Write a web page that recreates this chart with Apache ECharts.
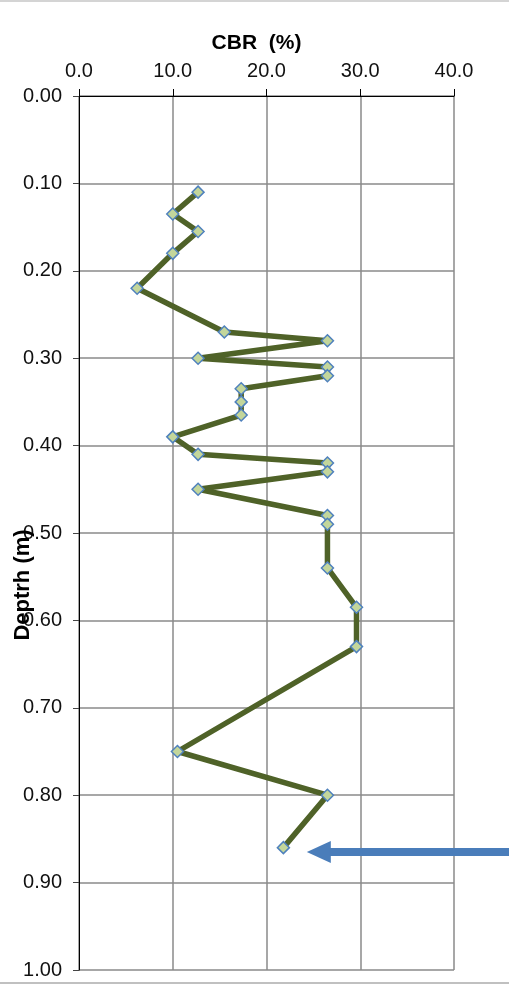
<!DOCTYPE html>
<html>
<head>
<meta charset="utf-8">
<script src="https://cdn.jsdelivr.net/npm/echarts@6/dist/echarts.min.js"></script>
<style>
  html, body { margin: 0; padding: 0; background: #fff; }
  #chart { width: 509px; height: 985px; }
</style>
</head>
<body>
<div id="chart"></div>
<script>
// CBR test profile: depth below surface (m) vs. CBR (%)
const depth = [0.11, 0.135, 0.155, 0.18, 0.22, 0.27, 0.28, 0.30, 0.31, 0.32, 0.335, 0.35, 0.365,
               0.39, 0.41, 0.42, 0.43, 0.45, 0.48, 0.49, 0.54, 0.585, 0.63, 0.75, 0.80, 0.86];
const cbr = [12.7, 10.0, 12.7, 10.0, 6.2, 15.5, 26.5, 12.7, 26.5, 26.5, 17.3, 17.3, 17.3,
             10.0, 12.7, 26.5, 26.5, 12.7, 26.5, 26.5, 26.5, 29.6, 29.6, 10.5, 26.5, 21.8];

// Axis ranges / tick spacing
const cbrTicks = [0, 10, 20, 30, 40];
const depthTicks = [0, 0.1, 0.2, 0.3, 0.4, 0.5, 0.6, 0.7, 0.8, 0.9, 1.0];

// Pointer arrow marking the last reading (tip position in data units)
const arrowDepth = 0.865;
const arrowTipCbr = 24.3;

const points = depth.map((d, i) => [cbr[i], d]);

const chart = echarts.init(document.getElementById('chart'), null, { renderer: 'canvas' });
const font = 'Liberation Sans, Arial, Helvetica, sans-serif';
const gridColor = '#8a8a8a';

chart.setOption({
  animation: false,
  backgroundColor: '#fff',
  grid: { left: 79, right: 55, top: 96, bottom: 15, containLabel: false },
  xAxis: {
    type: 'value',
    position: 'top',
    min: cbrTicks[0],
    max: cbrTicks[cbrTicks.length - 1],
    interval: cbrTicks[1] - cbrTicks[0],
    name: 'CBR  (%)',
    nameLocation: 'middle',
    nameGap: 42,
    nameTextStyle: {
      fontFamily: font, fontSize: 21, fontWeight: 'bold', color: '#000',
      padding: [0, 20, 0, 0]
    },
    axisLine: { show: true, lineStyle: { color: '#000', width: 1 } },
    axisTick: { show: true, length: 7, lineStyle: { color: '#000', width: 1 } },
    axisLabel: {
      fontFamily: font, fontSize: 20, color: '#111', margin: 15,
      formatter: v => v.toFixed(1)
    },
    splitLine: { show: true, lineStyle: { color: gridColor, width: 1.5 } }
  },
  yAxis: {
    type: 'value',
    inverse: true,
    min: depthTicks[0],
    max: depthTicks[depthTicks.length - 1],
    interval: 0.1,
    axisLine: { show: true, lineStyle: { color: '#000', width: 1 } },
    axisTick: { show: true, length: 6, lineStyle: { color: '#444', width: 1 } },
    axisLabel: {
      fontFamily: font, fontSize: 20, color: '#111', margin: 17,
      formatter: v => v.toFixed(2)
    },
    splitLine: { show: true, lineStyle: { color: gridColor, width: 1.5 } }
  },
  series: [{
    type: 'line',
    data: points,
    symbol: 'diamond',
    symbolSize: 12,
    lineStyle: { color: '#4f6228', width: 5.5 },
    itemStyle: { color: '#c3d69b', borderColor: '#4f81bd', borderWidth: 1.5 },
    z: 3
  }]
});

// Frame lines, rotated depth label, and the pointer arrow
const tip = chart.convertToPixel({ gridIndex: 0 }, [arrowTipCbr, arrowDepth]);
const W = chart.getWidth();
const headLen = 24, headHalf = 11, shaftHalf = 4;
chart.setOption({
  graphic: [
    { type: 'rect', shape: { x: 0, y: 0, width: W, height: 2 }, style: { fill: '#d4d4d4' }, silent: true },
    { type: 'rect', shape: { x: 0, y: 982, width: W, height: 2 }, style: { fill: '#c0c0c0' }, silent: true },
    {
      type: 'text', x: 23, y: 585, rotation: Math.PI / 2,
      style: {
        text: 'Deptrh (m)', fontFamily: font, fontSize: 22, fontWeight: 'bold',
        fill: '#000', align: 'center', verticalAlign: 'middle'
      },
      z: 10
    },
    {
      type: 'polygon',
      shape: { points: [[tip[0], tip[1]], [tip[0] + headLen, tip[1] - headHalf], [tip[0] + headLen, tip[1] + headHalf]] },
      style: { fill: '#4a7dba' }, z: 10
    },
    {
      type: 'rect',
      shape: { x: tip[0] + headLen - 1, y: tip[1] - shaftHalf, width: W - tip[0] - headLen + 1, height: shaftHalf * 2 },
      style: { fill: '#4a7dba' }, z: 10
    }
  ]
});
</script>
</body>
</html>
